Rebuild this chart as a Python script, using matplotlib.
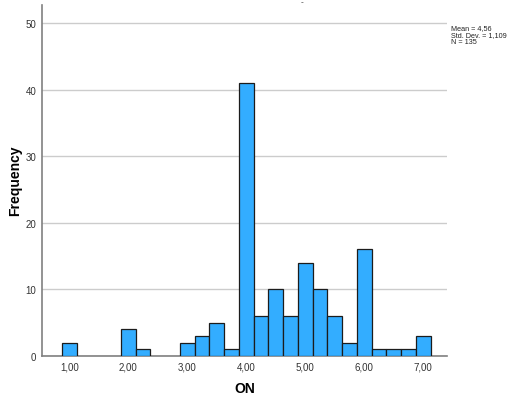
import numpy as np
from matplotlib import pyplot as plt

# bin centres (width 0.25) and counts
bin_centres = [1.0, 2.0, 2.25, 3.0, 3.25, 3.5, 3.75, 4.0, 4.25, 4.5, 4.75,
               5.0, 5.25, 5.5, 5.75, 6.0, 6.25, 6.5, 6.75, 7.0]
counts = [2, 4, 1, 2, 3, 5, 1, 41, 6, 10, 6, 14, 10, 6, 2, 16, 1, 1, 1, 3]
x_ticks = [1, 2, 3, 4, 5, 6, 7]
x_labels = ['1,00', '2,00', '3,00', '4,00', '5,00', '6,00', '7,00']
y_ticks = [0, 10, 20, 30, 40, 50]
stats_txt = 'Mean = 4,56\nStd. Dev. = 1,109\nN = 135'
bin_w = 0.25

narrow = ['Liberation Sans Narrow', 'Liberation Sans', 'DejaVu Sans']
plt.rcParams['font.family'] = ['Liberation Sans', 'DejaVu Sans']

fig = plt.figure(figsize=(5.13, 4.06), dpi=100)
ax = fig.add_axes([0.0819, 0.1207, 0.789, 0.864])

ax.bar(bin_centres, counts, width=bin_w, color='#33adff',
       edgecolor='#1c1c1c', linewidth=0.9, zorder=3)

ax.set_xlim(0.537, 7.40)
ax.set_ylim(0, 52.7)
ax.set_yticks(y_ticks)
ax.set_yticklabels([str(v) for v in y_ticks], family=narrow, fontsize=7, color='#333333')
ax.set_xticks(x_ticks)
ax.set_xticklabels(x_labels, family=narrow, fontsize=7, color='#333333')
ax.tick_params(length=0, pad=4)
ax.yaxis.grid(True, color='#cccccc', linewidth=1, zorder=0)

for s in ['top', 'right']:
    ax.spines[s].set_visible(False)
for s in ['left', 'bottom']:
    ax.spines[s].set_color('#808080')
    ax.spines[s].set_linewidth(1.2)

# axis titles placed in figure pixels like the SPSS output
fig.text(15 / 513, 1 - 181 / 406, 'Frequency', rotation=90, fontsize=10,
         fontweight='bold', ha='center', va='center')
ax.set_xlabel('ON', fontsize=10, fontweight='bold', labelpad=7)

fig.text(451 / 513, 1 - 25 / 406, stats_txt, family=narrow, fontsize=5.2,
         va='top', ha='left', linespacing=1.05, color='#222222')
# remnant of a clipped chart title at the very top
fig.text(302 / 513, 1 - 3 / 406, '-', fontsize=6, ha='center', va='center', color='#333333')

fig.savefig('out.png', dpi=100)
